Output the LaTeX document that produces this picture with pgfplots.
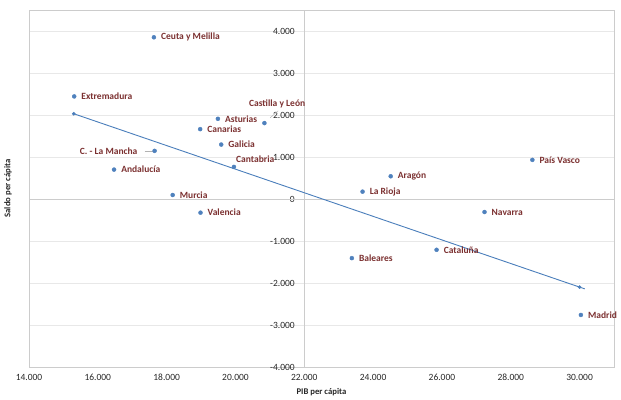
\documentclass[border=0pt]{standalone}
\usepackage{pgfplots}
\pgfplotsset{compat=1.18}
\usepackage{pgfplotstable}
\usepackage{fontspec}
\setmainfont{Carlito}
\definecolor{ptblue}{HTML}{4F81BD}
\definecolor{trendblue}{HTML}{4A7EBB}
\definecolor{lblred}{HTML}{7B3030}
\definecolor{tickcol}{HTML}{262626}

\pgfplotstableread[col sep=comma]{
x,y,name
17630,3850,Ceuta y Melilla
15314,2442,Extremadura
19489,1909,Asturias
18974,1663,Canarias
19586,1296,Galicia
16472,700,Andalucía
18175,95,Murcia
18984,-326,Valencia
24511,541,Aragón
23693,175,La Rioja
28628,931,País Vasco
27237,-310,Navarra
25844,-1210,Cataluña
23382,-1408,Baleares
30038,-2761,Madrid
}\datR

\pgfplotstableread[col sep=comma]{
x,y,name
17650,1146,C. - La Mancha
}\datL

\pgfplotstableread[col sep=comma]{
x,y,name
20841,1807,Castilla y León
}\datCL

\pgfplotstableread[col sep=comma]{
x,y,name
19956,764,Cantabria
}\datCA

\begin{document}
\begin{tikzpicture}
\begin{axis}[
  name=ax,
  width=585pt, height=357pt, scale only axis,
  xmin=14000, xmax=31000, ymin=-4000, ymax=4500,
  xtick={14000,16000,...,30000},
  ytick={-4000,-3000,...,4000},
  scaled x ticks=false, scaled y ticks=false,
  major tick length=0pt,
  axis line style={draw=gray!40},
  ymajorgrids, grid style={draw=gray!18, line width=0.6pt},
  /pgf/number format/.cd, fixed, 1000 sep={.}, assume math mode=true, /pgfplots/.cd,
  tick label style={font=\fontsize{9.5}{11}\selectfont, text=tickcol},
  xticklabel style={inner sep=0pt, anchor=north, yshift=-7pt},
  yticklabel style={inner sep=0pt, anchor=east, xshift=266pt},
  xlabel={PIB per cápita}, ylabel={Saldo per cápita},
  every axis x label/.style={at={(rel axis cs:0.5,-0.070)}, anchor=center, font=\fontsize{8.7}{10}\selectfont\bfseries, text=tickcol},
  every axis y label/.style={at={(rel axis cs:-0.0359,0.5)}, anchor=center, rotate=90, font=\fontsize{8.7}{10}\selectfont\bfseries, text=tickcol},
  clip=false,
  nodes near coords style={font=\fontsize{9.5}{11}\selectfont\bfseries, text=lblred, inner sep=0pt},
]
% axis cross lines
\addplot[draw=gray!40, line width=0.6pt, forget plot] coordinates {(22000,-4000) (22000,4500)};
\addplot[draw=gray!40, line width=0.6pt, forget plot] coordinates {(14000,0) (31000,0)};
% trend line
\addplot[trendblue, line width=0.9pt] coordinates {(15300,2030) (30150,-2140)};
\addplot[only marks, mark=*, mark size=1.6pt, trendblue] coordinates {(15300,2030) (30000,-2098)};
% leader lines
\addplot[gray!60, line width=0.5pt] coordinates {(17358,1146) (17591,1146)};
\addplot[gray!60, line width=0.5pt] coordinates {(21007,1933) (21241,2100)};
% points
\addplot[only marks, mark=*, mark size=2pt, ptblue, nodes near coords, point meta=explicit symbolic,
  nodes near coords style={anchor=west, xshift=7pt}] table[x=x,y=y,meta=name]{\datR};
\addplot[only marks, mark=*, mark size=2pt, ptblue, nodes near coords, point meta=explicit symbolic,
  nodes near coords style={anchor=east, xshift=-17pt}] table[x=x,y=y,meta=name]{\datL};
\addplot[only marks, mark=*, mark size=2pt, ptblue, nodes near coords, point meta=explicit symbolic,
  nodes near coords style={anchor=east, xshift=41pt, yshift=19pt}] table[x=x,y=y,meta=name]{\datCL};
\addplot[only marks, mark=*, mark size=2pt, ptblue, nodes near coords, point meta=explicit symbolic,
  nodes near coords style={anchor=south west, xshift=2pt, yshift=4pt}] table[x=x,y=y,meta=name]{\datCA};
\end{axis}
\path[use as bounding box] ([shift={(-29pt,-33pt)}]ax.south west) rectangle ([shift={(7pt,10pt)}]ax.north east);
\end{tikzpicture}
\end{document}
